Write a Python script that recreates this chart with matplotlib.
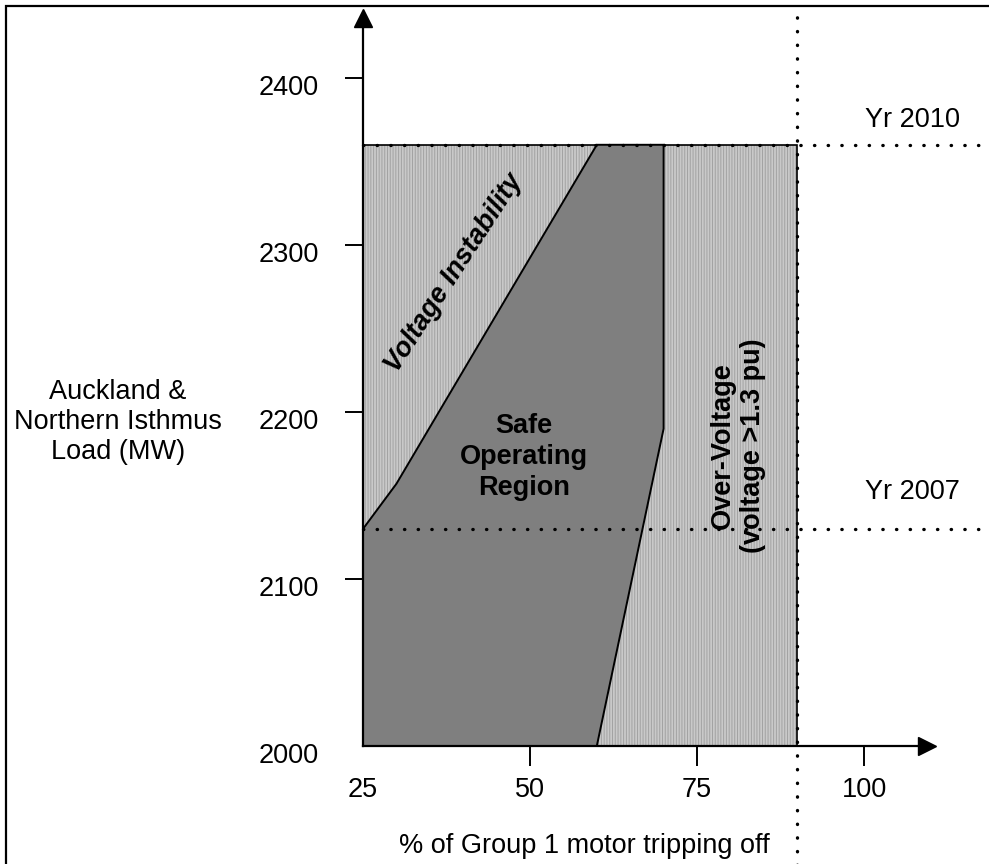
import matplotlib.pyplot as plt
from matplotlib.patches import Rectangle

plt.rcParams['font.family'] = ['Liberation Sans', 'DejaVu Sans']
plt.rcParams['hatch.linewidth'] = 0.7

# operating envelope (x = % of Group 1 motors tripping, y = load MW)
x_min, x_max = 25, 90
y_min, y_max = 2000, 2360
yr_2007_load = 2130
yr_2010_load = 2360

# safe operating region outline
safe_x = [25, 25, 30, 60, 70, 70, 60]
safe_y = [2000, 2130, 2157, 2360, 2360, 2190, 2000]

xticks = [50, 75, 100]
xtick_labels = ['25', '50', '75', '100']
xtick_label_pos = [25, 50, 75, 100]
yticks = [2100, 2200, 2300, 2400]
ytick_label_pos = [2000, 2100, 2200, 2300, 2400]

FS = 19.5

fig = plt.figure(figsize=(9.89, 8.64), dpi=100)
ax = fig.add_axes([0, 0, 1, 1])
ax.set_xlim(-29.34, 118.71)
ax.set_ylim(1929.34, 2446.7)
ax.patch.set_visible(False)

# frame round the whole picture
fig.add_artist(Rectangle((6 / 989, -0.05), 1.1, 1 - 6 / 864 + 0.05,
                         transform=fig.transFigure, fill=False,
                         edgecolor='black', linewidth=1.6))

# light (unsafe) area: fine vertical stripes
box_x = [x_min, x_max, x_max, x_min]
box_y = [y_min, y_min, y_max, y_max]
ax.fill(box_x, box_y, facecolor='#c9c9c9', edgecolor='none', zorder=1)
ax.fill(box_x, box_y, facecolor='none', edgecolor='#a2a2a2', hatch='||||||',
        linewidth=0, zorder=1.1)
ax.fill(box_x, box_y, facecolor='none', edgecolor='black', linewidth=1.2, zorder=1.2)

# dark safe area
ax.fill(safe_x, safe_y, facecolor='#7f7f7f', edgecolor='black',
        linewidth=1.4, zorder=2)

# dotted guide lines
dot = dict(color='black', linewidth=2.4, linestyle=(0, (0.1, 4)),
           dash_capstyle='round', zorder=4, clip_on=False)
ax.plot([x_min, 119], [yr_2010_load, yr_2010_load], **dot)
ax.plot([x_min, 119], [yr_2007_load, yr_2007_load], **dot)
ax.plot([x_max, x_max], [1925, 2440], **dot)

# axes with arrow heads
for s in ['top', 'right']:
    ax.spines[s].set_visible(False)
ax.spines['left'].set_position(('data', 25))
ax.spines['bottom'].set_position(('data', 2000))
ax.spines['left'].set_bounds(2000, 2432)
ax.spines['bottom'].set_bounds(25, 108)
for s in ['left', 'bottom']:
    ax.spines[s].set_linewidth(1.6)
    ax.spines[s].set_zorder(5)
ax.plot([25], [2436], marker='^', markersize=13, color='black', clip_on=False, zorder=6)
ax.plot([109.5], [2000], marker='>', markersize=13, color='black', clip_on=False, zorder=6)

ax.set_xticks(xticks, [])
ax.set_yticks(yticks, [])
ax.tick_params(axis='x', direction='out', length=14.5, width=1.4)
ax.tick_params(axis='y', direction='out', length=13, width=1.4)

for v, lab in zip(xtick_label_pos, xtick_labels):
    ax.text(v, 1973.7, lab, ha='center', va='center', fontsize=FS)
for v in ytick_label_pos:
    ax.text(18.4, v - 6, str(v), ha='right', va='center', fontsize=FS)

ax.text(38.6, 2283, 'Voltage Instability', rotation=57, ha='center', va='center',
        fontsize=FS, fontweight='bold', fontstyle='italic', zorder=7)
ax.text(49.1, 2173, 'Safe\nOperating\nRegion', ha='center', va='center',
        fontsize=FS, fontweight='bold', linespacing=1.24, zorder=7)
ax.text(81.1, 2180, 'Over-Voltage\n(voltage >1.3 pu)', rotation=90,
        ha='center', va='center', fontsize=FS, fontweight='bold',
        linespacing=1.2, zorder=7)
ax.text(107.3, 2375, 'Yr 2010', ha='center', va='center', fontsize=FS)
ax.text(107.3, 2152, 'Yr 2007', ha='center', va='center', fontsize=FS)
ax.text(-11.7, 2194, 'Auckland &\nNorthern Isthmus\nLoad (MW)', ha='center',
        va='center', fontsize=FS, linespacing=1.2)
ax.text(58.1, 1936, '% of Group 1 motor tripping off', ha='center',
        va='baseline', fontsize=FS)

fig.savefig('out.png', dpi=100)
